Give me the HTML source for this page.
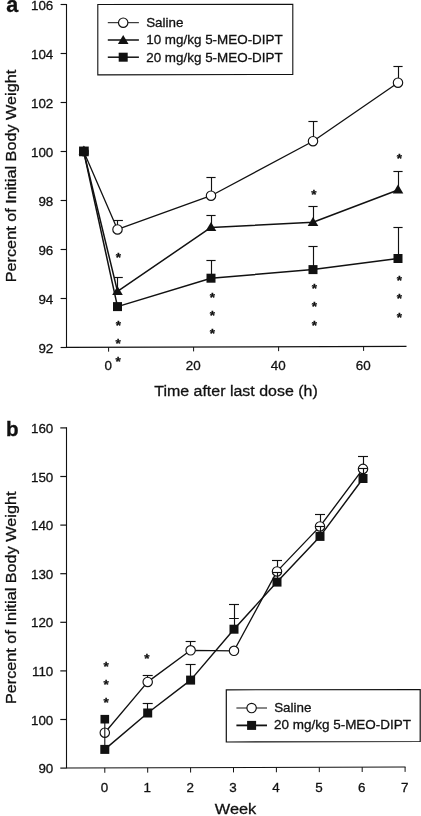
<!DOCTYPE html>
<html lang="en">
<head>
<meta charset="utf-8">
<title>Body weight after 5-MEO-DIPT</title>
<style>
html,body{margin:0;padding:0;background:#fff;}
body{width:421px;height:816px;overflow:hidden;}
svg{display:block;filter:grayscale(1);font-family:"Liberation Sans",Arial,Helvetica,sans-serif;}
</style>
</head>
<body>
<svg width="421" height="816" viewBox="0 0 421 816">
<rect x="0" y="0" width="421" height="816" fill="#ffffff"/>
<g stroke="#111" fill="none">
<line x1="66.50" y1="4.00" x2="66.50" y2="347.40" stroke-width="1.1" />
<line x1="66.00" y1="347.40" x2="406.50" y2="346.40" stroke-width="1.1" />
<line x1="60.60" y1="347.50" x2="66.50" y2="347.50" stroke-width="1.15" />
<line x1="60.60" y1="298.50" x2="66.50" y2="298.50" stroke-width="1.15" />
<line x1="60.60" y1="249.50" x2="66.50" y2="249.50" stroke-width="1.15" />
<line x1="60.60" y1="200.50" x2="66.50" y2="200.50" stroke-width="1.15" />
<line x1="60.60" y1="151.50" x2="66.50" y2="151.50" stroke-width="1.15" />
<line x1="60.60" y1="102.50" x2="66.50" y2="102.50" stroke-width="1.15" />
<line x1="60.60" y1="53.50" x2="66.50" y2="53.50" stroke-width="1.15" />
<line x1="60.60" y1="4.50" x2="66.50" y2="4.50" stroke-width="1.15" />
<line x1="108.60" y1="347.27" x2="108.60" y2="351.67" stroke-width="1" />
<line x1="193.60" y1="347.02" x2="193.60" y2="351.42" stroke-width="1" />
<line x1="278.60" y1="346.76" x2="278.60" y2="351.16" stroke-width="1" />
<line x1="363.60" y1="346.51" x2="363.60" y2="350.91" stroke-width="1" />
<polygon points="97.8,4.5 292.8,4.3 292.8,74.4 97.8,74.9" fill="#fff" stroke-width="1.1"/>
<line x1="107.80" y1="22.70" x2="138.90" y2="22.70" stroke-width="1" />
<line x1="107.80" y1="40.00" x2="138.90" y2="40.00" stroke-width="1.5" />
<line x1="107.80" y1="57.20" x2="138.90" y2="57.20" stroke-width="1.5" />
<line x1="117.50" y1="229.40" x2="117.50" y2="220.50" stroke-width="1.15" />
<line x1="114.00" y1="220.50" x2="122.90" y2="220.50" stroke-width="1.15" />
<line x1="117.50" y1="291.40" x2="117.50" y2="277.50" stroke-width="1.15" />
<line x1="114.00" y1="277.50" x2="122.80" y2="277.50" stroke-width="1.15" />
<line x1="211.50" y1="195.70" x2="211.50" y2="177.50" stroke-width="1.15" />
<line x1="206.40" y1="177.50" x2="215.60" y2="177.50" stroke-width="1.15" />
<line x1="211.50" y1="227.40" x2="211.50" y2="215.50" stroke-width="1.15" />
<line x1="206.40" y1="215.50" x2="215.60" y2="215.50" stroke-width="1.15" />
<line x1="211.50" y1="278.20" x2="211.50" y2="260.50" stroke-width="1.15" />
<line x1="206.40" y1="260.50" x2="215.60" y2="260.50" stroke-width="1.15" />
<line x1="313.50" y1="141.20" x2="313.50" y2="121.50" stroke-width="1.15" />
<line x1="308.40" y1="121.50" x2="317.60" y2="121.50" stroke-width="1.15" />
<line x1="313.50" y1="222.30" x2="313.50" y2="206.50" stroke-width="1.15" />
<line x1="308.40" y1="206.50" x2="317.60" y2="206.50" stroke-width="1.15" />
<line x1="313.50" y1="269.60" x2="313.50" y2="246.50" stroke-width="1.15" />
<line x1="308.40" y1="246.50" x2="317.60" y2="246.50" stroke-width="1.15" />
<line x1="398.50" y1="82.70" x2="398.50" y2="66.50" stroke-width="1.15" />
<line x1="393.40" y1="66.50" x2="402.60" y2="66.50" stroke-width="1.15" />
<line x1="398.50" y1="190.00" x2="398.50" y2="171.50" stroke-width="1.15" />
<line x1="393.40" y1="171.50" x2="402.60" y2="171.50" stroke-width="1.15" />
<line x1="398.50" y1="258.50" x2="398.50" y2="227.50" stroke-width="1.15" />
<line x1="393.40" y1="227.50" x2="402.60" y2="227.50" stroke-width="1.15" />
<polyline points="83.70,151.60 117.50,229.40 211.00,195.70 313.00,141.20 398.00,82.70" fill="none" stroke-width="1.3" stroke-linejoin="round"/>
<polyline points="83.70,151.60 117.50,291.40 211.00,227.40 313.00,222.30 398.00,190.00" fill="none" stroke-width="1.5" stroke-linejoin="round"/>
<polyline points="83.70,151.60 117.50,306.60 211.00,278.20 313.00,269.60 398.00,258.50" fill="none" stroke-width="1.5" stroke-linejoin="round"/>
</g>
<g stroke="#111">
<rect x="79.05" y="146.55" width="9.7" height="9.7" fill="#111" stroke="none"/>
<rect x="113.00" y="302.10" width="9.0" height="9.0" fill="#111" stroke="none"/>
<rect x="206.50" y="273.70" width="9.0" height="9.0" fill="#111" stroke="none"/>
<rect x="308.50" y="265.10" width="9.0" height="9.0" fill="#111" stroke="none"/>
<rect x="393.50" y="254.00" width="9.0" height="9.0" fill="#111" stroke="none"/>
<polygon points="83.90,145.60 78.60,154.60 89.20,154.60" fill="#111" stroke="none"/>
<polygon points="117.50,286.00 112.20,295.00 122.80,295.00" fill="#111" stroke="none"/>
<polygon points="211.00,222.00 205.70,231.00 216.30,231.00" fill="#111" stroke="none"/>
<polygon points="313.00,216.90 307.70,225.90 318.30,225.90" fill="#111" stroke="none"/>
<polygon points="398.00,184.60 392.70,193.60 403.30,193.60" fill="#111" stroke="none"/>
<circle cx="83.90" cy="151.60" r="4.4" fill="#111" stroke-width="1"/>
<circle cx="117.50" cy="229.40" r="4.7" fill="#fff" stroke-width="1.15"/>
<circle cx="211.00" cy="195.70" r="4.7" fill="#fff" stroke-width="1.15"/>
<circle cx="313.00" cy="141.20" r="4.7" fill="#fff" stroke-width="1.15"/>
<circle cx="398.00" cy="82.70" r="4.7" fill="#fff" stroke-width="1.15"/>
<circle cx="123.20" cy="22.70" r="4.7" fill="#fff" stroke-width="1.15"/>
<polygon points="123.20,35.00 117.90,44.00 128.50,44.00" fill="#111" stroke="none"/>
<rect x="118.70" y="52.70" width="9.0" height="9.0" fill="#111" stroke="none"/>
</g>
<g fill="#111" stroke="#111" stroke-width="0.3">
<text x="53.30" y="352.60" font-size="13.4" text-anchor="end" >92</text>
<text x="53.30" y="303.60" font-size="13.4" text-anchor="end" >94</text>
<text x="53.30" y="254.60" font-size="13.4" text-anchor="end" >96</text>
<text x="53.30" y="205.60" font-size="13.4" text-anchor="end" >98</text>
<text x="53.30" y="156.60" font-size="13.4" text-anchor="end" >100</text>
<text x="53.30" y="107.60" font-size="13.4" text-anchor="end" >102</text>
<text x="53.30" y="58.60" font-size="13.4" text-anchor="end" >104</text>
<text x="53.30" y="9.60" font-size="13.4" text-anchor="end" >106</text>
<text x="108.30" y="370.40" font-size="13.4" text-anchor="middle" >0</text>
<text x="193.30" y="370.40" font-size="13.4" text-anchor="middle" >20</text>
<text x="278.30" y="370.40" font-size="13.4" text-anchor="middle" >40</text>
<text x="363.30" y="370.40" font-size="13.4" text-anchor="middle" >60</text>
<text x="236.00" y="395.70" font-size="15.4" text-anchor="middle" textLength="163.5" lengthAdjust="spacingAndGlyphs" >Time after last dose (h)</text>
<text transform="translate(16.3,176) rotate(-90)" font-size="15.4" text-anchor="middle" textLength="212.5" lengthAdjust="spacingAndGlyphs">Percent of Initial Body Weight</text>
<text x="6.30" y="11.70" font-size="21.5" text-anchor="start" font-weight="bold">a</text>
<text x="146.20" y="27.10" font-size="13.4" text-anchor="start" >Saline</text>
<text x="146.20" y="44.40" font-size="13.4" text-anchor="start" textLength="136.5" lengthAdjust="spacingAndGlyphs" >10 mg/kg 5-MEO-DIPT</text>
<text x="146.20" y="61.60" font-size="13.4" text-anchor="start" textLength="136.5" lengthAdjust="spacingAndGlyphs" >20 mg/kg 5-MEO-DIPT</text>
<text x="118.50" y="261.80" font-size="13.5" font-weight="bold" text-anchor="middle">*</text>
<text x="118.30" y="330.30" font-size="13.5" font-weight="bold" text-anchor="middle">*</text>
<text x="118.20" y="347.60" font-size="13.5" font-weight="bold" text-anchor="middle">*</text>
<text x="118.20" y="365.90" font-size="13.5" font-weight="bold" text-anchor="middle">*</text>
<text x="212.40" y="301.90" font-size="13.5" font-weight="bold" text-anchor="middle">*</text>
<text x="212.40" y="319.80" font-size="13.5" font-weight="bold" text-anchor="middle">*</text>
<text x="212.40" y="337.90" font-size="13.5" font-weight="bold" text-anchor="middle">*</text>
<text x="314.00" y="199.10" font-size="13.5" font-weight="bold" text-anchor="middle">*</text>
<text x="314.40" y="293.40" font-size="13.5" font-weight="bold" text-anchor="middle">*</text>
<text x="314.40" y="311.20" font-size="13.5" font-weight="bold" text-anchor="middle">*</text>
<text x="314.40" y="329.60" font-size="13.5" font-weight="bold" text-anchor="middle">*</text>
<text x="399.50" y="163.10" font-size="13.5" font-weight="bold" text-anchor="middle">*</text>
<text x="399.50" y="285.00" font-size="13.5" font-weight="bold" text-anchor="middle">*</text>
<text x="399.50" y="303.40" font-size="13.5" font-weight="bold" text-anchor="middle">*</text>
<text x="399.50" y="321.50" font-size="13.5" font-weight="bold" text-anchor="middle">*</text>
</g>
<g stroke="#111" fill="none">
<line x1="66.50" y1="427.20" x2="66.50" y2="768.00" stroke-width="1.1" />
<line x1="66.00" y1="768.00" x2="405.50" y2="767.00" stroke-width="1.1" />
<line x1="60.30" y1="768.10" x2="66.50" y2="768.10" stroke-width="1.2" />
<line x1="60.30" y1="719.50" x2="66.50" y2="719.50" stroke-width="1.2" />
<line x1="60.30" y1="670.90" x2="66.50" y2="670.90" stroke-width="1.2" />
<line x1="60.30" y1="622.30" x2="66.50" y2="622.30" stroke-width="1.2" />
<line x1="60.30" y1="573.70" x2="66.50" y2="573.70" stroke-width="1.2" />
<line x1="60.30" y1="525.10" x2="66.50" y2="525.10" stroke-width="1.2" />
<line x1="60.30" y1="476.50" x2="66.50" y2="476.50" stroke-width="1.2" />
<line x1="60.30" y1="427.90" x2="66.50" y2="427.90" stroke-width="1.2" />
<line x1="104.80" y1="767.88" x2="104.80" y2="772.78" stroke-width="1" />
<line x1="147.70" y1="767.75" x2="147.70" y2="772.65" stroke-width="1" />
<line x1="190.60" y1="767.63" x2="190.60" y2="772.53" stroke-width="1" />
<line x1="233.50" y1="767.50" x2="233.50" y2="772.40" stroke-width="1" />
<line x1="276.40" y1="767.37" x2="276.40" y2="772.27" stroke-width="1" />
<line x1="319.30" y1="767.24" x2="319.30" y2="772.14" stroke-width="1" />
<line x1="362.20" y1="767.11" x2="362.20" y2="772.01" stroke-width="1" />
<line x1="405.10" y1="766.98" x2="405.10" y2="771.88" stroke-width="1" />
<line x1="147.50" y1="681.90" x2="147.50" y2="675.50" stroke-width="1.15" />
<line x1="142.70" y1="675.50" x2="152.70" y2="675.50" stroke-width="1.15" />
<line x1="190.50" y1="650.30" x2="190.50" y2="641.50" stroke-width="1.15" />
<line x1="185.60" y1="641.50" x2="195.60" y2="641.50" stroke-width="1.15" />
<line x1="277.50" y1="571.40" x2="277.50" y2="560.50" stroke-width="1.15" />
<line x1="272.00" y1="560.50" x2="282.00" y2="560.50" stroke-width="1.15" />
<line x1="320.50" y1="526.40" x2="320.50" y2="514.50" stroke-width="1.15" />
<line x1="315.00" y1="514.50" x2="325.00" y2="514.50" stroke-width="1.15" />
<line x1="363.50" y1="468.90" x2="363.50" y2="456.50" stroke-width="1.15" />
<line x1="358.00" y1="456.50" x2="368.00" y2="456.50" stroke-width="1.15" />
<polyline points="104.80,732.70 147.70,681.90 190.60,650.30 234.00,650.80 277.00,571.40 320.00,526.40 363.00,468.90" fill="none" stroke-width="1.35" stroke-linejoin="round"/>
</g>
<g stroke="#111">
<circle cx="104.80" cy="732.70" r="4.7" fill="#fff" stroke-width="1.15"/>
<circle cx="147.70" cy="681.90" r="4.7" fill="#fff" stroke-width="1.15"/>
<circle cx="190.60" cy="650.30" r="4.7" fill="#fff" stroke-width="1.15"/>
<circle cx="234.00" cy="650.80" r="4.7" fill="#fff" stroke-width="1.15"/>
<circle cx="277.00" cy="571.40" r="4.7" fill="#fff" stroke-width="1.15"/>
<circle cx="320.00" cy="526.40" r="4.7" fill="#fff" stroke-width="1.15"/>
<circle cx="363.00" cy="468.90" r="4.7" fill="#fff" stroke-width="1.15"/>
</g>
<g stroke="#111" fill="none">
<line x1="104.80" y1="719.20" x2="104.80" y2="749.40" stroke-width="1.1" />
<line x1="147.50" y1="713.00" x2="147.50" y2="703.50" stroke-width="1.15" />
<line x1="142.70" y1="703.50" x2="152.70" y2="703.50" stroke-width="1.15" />
<line x1="190.50" y1="680.10" x2="190.50" y2="664.50" stroke-width="1.15" />
<line x1="185.60" y1="664.50" x2="195.60" y2="664.50" stroke-width="1.15" />
<line x1="234.50" y1="629.20" x2="234.50" y2="604.50" stroke-width="1.15" />
<line x1="229.00" y1="604.50" x2="239.00" y2="604.50" stroke-width="1.15" />
<line x1="277.50" y1="582.10" x2="277.50" y2="572.50" stroke-width="1.15" />
<line x1="272.40" y1="572.50" x2="281.60" y2="572.50" stroke-width="1.15" />
<line x1="320.50" y1="536.40" x2="320.50" y2="526.50" stroke-width="1.15" />
<line x1="315.40" y1="526.50" x2="324.60" y2="526.50" stroke-width="1.15" />
<line x1="363.50" y1="478.50" x2="363.50" y2="468.50" stroke-width="1.15" />
<line x1="358.40" y1="468.50" x2="367.60" y2="468.50" stroke-width="1.15" />
<line x1="229.20" y1="618.50" x2="238.80" y2="618.50" stroke-width="1" />
<polyline points="104.80,749.40 147.70,713.00 190.60,680.10 234.00,629.20 277.00,582.10 320.00,536.40 363.00,478.50" fill="none" stroke-width="1.45" stroke-linejoin="round"/>
<polygon points="226.3,689.8 420.2,689.6 420.2,741.5 226.3,742.0" fill="#fff" stroke-width="1.2"/>
<line x1="236.40" y1="708.00" x2="267.00" y2="708.00" stroke-width="1" />
<line x1="236.40" y1="725.40" x2="267.00" y2="725.40" stroke-width="1.8" />
</g>
<g stroke="#111">
<rect x="100.50" y="714.90" width="8.6" height="8.6" fill="#111" stroke="none"/>
<rect x="100.30" y="744.90" width="9.0" height="9.0" fill="#111" stroke="none"/>
<rect x="143.20" y="708.50" width="9.0" height="9.0" fill="#111" stroke="none"/>
<rect x="186.10" y="675.60" width="9.0" height="9.0" fill="#111" stroke="none"/>
<rect x="229.50" y="624.70" width="9.0" height="9.0" fill="#111" stroke="none"/>
<rect x="272.50" y="577.60" width="9.0" height="9.0" fill="#111" stroke="none"/>
<rect x="315.50" y="531.90" width="9.0" height="9.0" fill="#111" stroke="none"/>
<rect x="358.50" y="474.00" width="9.0" height="9.0" fill="#111" stroke="none"/>
<circle cx="251.60" cy="708.00" r="4.7" fill="#fff" stroke-width="1.15"/>
<rect x="247.10" y="720.90" width="9.0" height="9.0" fill="#111" stroke="none"/>
</g>
<g fill="#111" stroke="#111" stroke-width="0.3">
<text x="53.30" y="773.10" font-size="13.4" text-anchor="end" >90</text>
<text x="53.30" y="724.50" font-size="13.4" text-anchor="end" >100</text>
<text x="53.30" y="675.90" font-size="13.4" text-anchor="end" >110</text>
<text x="53.30" y="627.30" font-size="13.4" text-anchor="end" >120</text>
<text x="53.30" y="578.70" font-size="13.4" text-anchor="end" >130</text>
<text x="53.30" y="530.10" font-size="13.4" text-anchor="end" >140</text>
<text x="53.30" y="481.50" font-size="13.4" text-anchor="end" >150</text>
<text x="53.30" y="432.90" font-size="13.4" text-anchor="end" >160</text>
<text x="104.40" y="791.90" font-size="13.4" text-anchor="middle" >0</text>
<text x="147.30" y="791.90" font-size="13.4" text-anchor="middle" >1</text>
<text x="190.20" y="791.90" font-size="13.4" text-anchor="middle" >2</text>
<text x="233.10" y="791.90" font-size="13.4" text-anchor="middle" >3</text>
<text x="276.00" y="791.90" font-size="13.4" text-anchor="middle" >4</text>
<text x="318.90" y="791.90" font-size="13.4" text-anchor="middle" >5</text>
<text x="361.80" y="791.90" font-size="13.4" text-anchor="middle" >6</text>
<text x="404.70" y="791.90" font-size="13.4" text-anchor="middle" >7</text>
<text x="235.50" y="814.40" font-size="15.4" text-anchor="middle" textLength="41.5" lengthAdjust="spacingAndGlyphs" >Week</text>
<text transform="translate(16.4,597.8) rotate(-90)" font-size="15.4" text-anchor="middle" textLength="212.5" lengthAdjust="spacingAndGlyphs">Percent of Initial Body Weight</text>
<text x="5.90" y="435.60" font-size="19.5" text-anchor="start" textLength="12.6" lengthAdjust="spacingAndGlyphs" font-weight="bold" stroke="#111" stroke-width="0.3">b</text>
<text x="274.20" y="712.40" font-size="13.4" text-anchor="start" >Saline</text>
<text x="274.00" y="729.40" font-size="13.4" text-anchor="start" textLength="137" lengthAdjust="spacingAndGlyphs" >20 mg/kg 5-MEO-DIPT</text>
<text x="106.10" y="671.30" font-size="13.5" font-weight="bold" text-anchor="middle">*</text>
<text x="106.10" y="689.20" font-size="13.5" font-weight="bold" text-anchor="middle">*</text>
<text x="106.10" y="707.20" font-size="13.5" font-weight="bold" text-anchor="middle">*</text>
<text x="147.00" y="662.50" font-size="13.5" font-weight="bold" text-anchor="middle">*</text>
</g>
</svg>
</body>
</html>
